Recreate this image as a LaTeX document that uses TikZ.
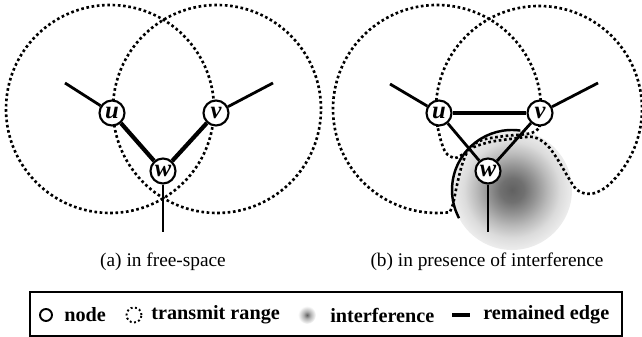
\documentclass[tikz,border=0pt]{standalone}
\usepackage{fontspec}
\setmainfont{Liberation Serif}
\usepackage{tikz}
\usetikzlibrary{positioning}
\pgfdeclareradialshading{interfshade}{\pgfpoint{0bp}{0bp}}{color(0bp)=(black!62); color(5bp)=(black!56); color(10bp)=(black!42); color(15bp)=(black!27); color(20bp)=(black!14); color(25bp)=(black!7); color(50bp)=(black!7)}
\pgfdeclareradialshading{blobshade}{\pgfpoint{0bp}{0bp}}{color(0bp)=(black!62); color(10bp)=(black!30); color(25bp)=(white); color(50bp)=(white)}
\newcommand{\lab}[1]{\fontsize{14}{14}\selectfont\bfseries\itshape #1}
\tikzset{
  vertex/.style={circle,draw,line width=1.2pt,fill=white,inner sep=0pt,minimum size=5mm},
  txrange/.style={line width=1.5pt,dash pattern=on 1.5pt off 1.5pt},
  edge/.style={line width=1.6pt},
  thickedge/.style={line width=2.4pt},
  caption/.style={font=\fontsize{11}{13}\selectfont},
  legtext/.style={anchor=west,inner sep=0pt,font=\fontsize{11.5}{13}\selectfont\bfseries}
}

\begin{document}
\begin{tikzpicture}[x=0.2mm,y=0.2mm]
  \useasboundingbox (0,0) rectangle (642,337);
  % (a) in free-space
  \draw[txrange] (110,228) circle (104);
  \draw[txrange] (217,228) circle (104);
  \coordinate (ua-out) at (65,254);
  \coordinate (va-out) at (273,254);
  \coordinate (wa-out) at (163,105);
  \node[vertex] (ua) at (112,224) {\lab{u}};
  \node[vertex] (va) at (216,224) {\lab{v}};
  \node[vertex] (wa) at (163,166) {\lab{w}};
  \draw[edge] (ua-out) -- (ua);
  \draw[edge] (va) -- (va-out);
  \draw[edge] (wa) -- (wa-out);
  \draw[thickedge] (ua) -- (wa);
  \draw[thickedge] (va) -- (wa);
  \node[caption] (capa) at (163,75) {(a) in free-space};

  % (b) in presence of interference
  \shade[shading=interfshade] (512,147) circle (60);
  \draw[line width=1.4pt] (512,147) ++(82:60) arc[start angle=82,end angle=208,radius=60];
  \draw[txrange] (437,228) ++(-10:104) arc[start angle=-10,end angle=277,radius=104]
    -- plot[smooth] coordinates {(449.7,124.8) (453,133) (457,152) (462,172) (469,188)
       (482,197) (505,201) (527,203) (536,206) (539.4,209.9)};
  \draw[txrange] (539,228) ++(190:103) arc[start angle=190,end angle=-50,radius=103]
    -- plot[smooth] coordinates {(605.2,149.1) (595,144) (585,143.5) (576,148) (568,160)
       (558,177) (547,192) (533,200) (510,198) (490,195) (474,190) (465,184) (455,179)
       (446,184) (441,196) (437.6,210.1)};
  \coordinate (ub-out) at (390,253);
  \coordinate (vb-out) at (598,254);
  \coordinate (wb-out) at (488,105);
  \node[vertex] (ub) at (439,224) {\lab{u}};
  \node[vertex] (vb) at (540,224) {\lab{v}};
  \node[vertex] (wb) at (488,166) {\lab{w}};
  \draw[edge] (ub-out) -- (ub);
  \draw[edge] (vb) -- (vb-out);
  \draw[edge] (wb) -- (wb-out);
  \draw[thickedge] (ub) -- (vb);
  \draw[edge] (ub) -- (wb);
  \draw[edge] (vb) -- (wb);
  \node[caption] (capb) at (487,75) {(b) in presence of interference};

  % legend
  \draw[line width=0.8pt] (30,1) rectangle (622,45);
  \draw[line width=1.1pt] (46,22) circle (6);
  \node[legtext] (lgnode) at (64,22) {node};
  \draw[line width=1.1pt,dash pattern=on 1.1pt off 1.4pt] (134,22) circle (7.5);
  \node[legtext] (lgrange) at (151,22) {transmit range};
  \shade[shading=blobshade] (307,22) circle (9);
  \node[legtext] (lginterf) at (330,22) {interference};
  \coordinate (lgedge-a) at (452,22);
  \coordinate (lgedge-b) at (470,22);
  \draw[line width=1.8pt] (lgedge-a) -- (lgedge-b);
  \node[legtext] (lgedge) at (483,22) {remained edge};
\end{tikzpicture}
\end{document}
